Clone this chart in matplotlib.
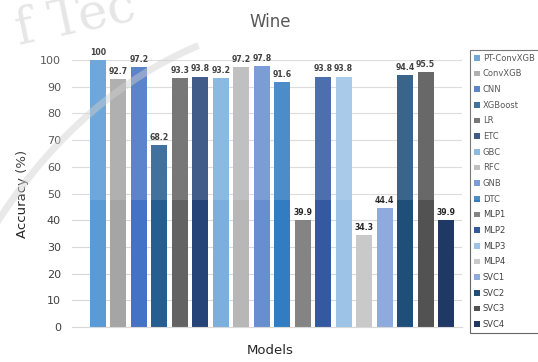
import numpy as np
import matplotlib
matplotlib.use("Agg")
import matplotlib.pyplot as plt
from matplotlib.patches import Rectangle, Arc

models = ["PT-ConvXGB", "ConvXGB", "CNN", "XGBoost", "LR", "ETC", "GBC", "RFC", "GNB",
          "DTC", "MLP1", "MLP2", "MLP3", "MLP4", "SVC1", "SVC2", "SVC3", "SVC4"]
accuracy = [100, 92.7, 97.2, 68.2, 93.3, 93.8, 93.2, 97.2, 97.8,
            91.6, 39.9, 93.8, 93.8, 34.3, 44.4, 94.4, 95.5, 39.9]
colors = ["#5B9BD5", "#A5A5A5", "#4472C4", "#255E91", "#636363", "#264478",
          "#7CAFDD", "#B7B7B7", "#698ED0", "#327DC2", "#848484", "#335AA1",
          "#9DC3E6", "#C9C9C9", "#8FAADC", "#1F4E79", "#525252", "#203864"]
yticks = [0, 10, 20, 30, 40, 50, 60, 70, 80, 90, 100]

plt.rcParams["font.family"] = ["DejaVu Sans"]

fig = plt.figure(figsize=(5.38, 3.62), dpi=100)
ax = fig.add_axes([72 / 538, 35 / 362, 390 / 538, 267 / 362])

x = np.arange(len(models))
bars = ax.bar(x, accuracy, width=0.78, color=colors, label=models, zorder=2)
for xi, v in zip(x, accuracy):
    ax.text(xi, v + 1.2, f"{v:g}", ha="center", va="bottom", fontsize=5.6,
            fontweight="bold", color="#262626", zorder=3)

ax.set_xlim(-1.27, 17.78)
ax.set_ylim(0, 100)
ax.set_yticks(yticks)
ax.tick_params(axis="y", length=0, labelsize=8, colors="#404040", pad=8)
ax.set_xticks([])
ax.yaxis.grid(True, color="#D9D9D9", linewidth=0.8, zorder=0)
for s in ["top", "right", "left"]:
    ax.spines[s].set_visible(False)
ax.spines["bottom"].set_color("#D9D9D9")

ax.set_ylabel("Accuracy (%)", fontsize=9.5, color="#262626", labelpad=8)
fig.text(270 / 538, 1 - 350 / 362, "Models", ha="center", va="center",
         fontsize=9.5, color="#262626")
fig.text(270 / 538, 1 - 22 / 362, "Wine", ha="center", va="center",
         fontsize=12, color="#404040")

leg = fig.legend(handles=bars, labels=models, loc="upper left",
                 bbox_to_anchor=(470 / 538, 1 - 50 / 362), fontsize=6,
                 frameon=True, fancybox=False, edgecolor="#404040",
                 handlelength=0.7, handleheight=0.7, handletextpad=0.4,
                 labelspacing=0.8, borderpad=0.45, borderaxespad=0)
leg.get_frame().set_linewidth(0.8)
for t in leg.get_texts():
    t.set_color("#404040")

# faint watermark seal over the upper part of the scan
fig.patches.append(Rectangle((0, 1 - 200 / 362), 1, 200 / 362, transform=fig.transFigure,
                             facecolor="white", alpha=0.13, zorder=10))
fig.text(0.14, 0.95, "f Tec", transform=fig.transFigure, fontsize=36,
         family="DejaVu Serif", color="#C8C8C8", alpha=0.45, rotation=12,
         ha="center", va="center", zorder=11)
fig.patches.append(Arc((0.62, -0.55), 1.6, 3.0, theta1=100, theta2=165,
                       transform=fig.transFigure, color="#D0D0D0", alpha=0.45,
                       linewidth=5, zorder=11))

fig.savefig("out.png", dpi=100)
